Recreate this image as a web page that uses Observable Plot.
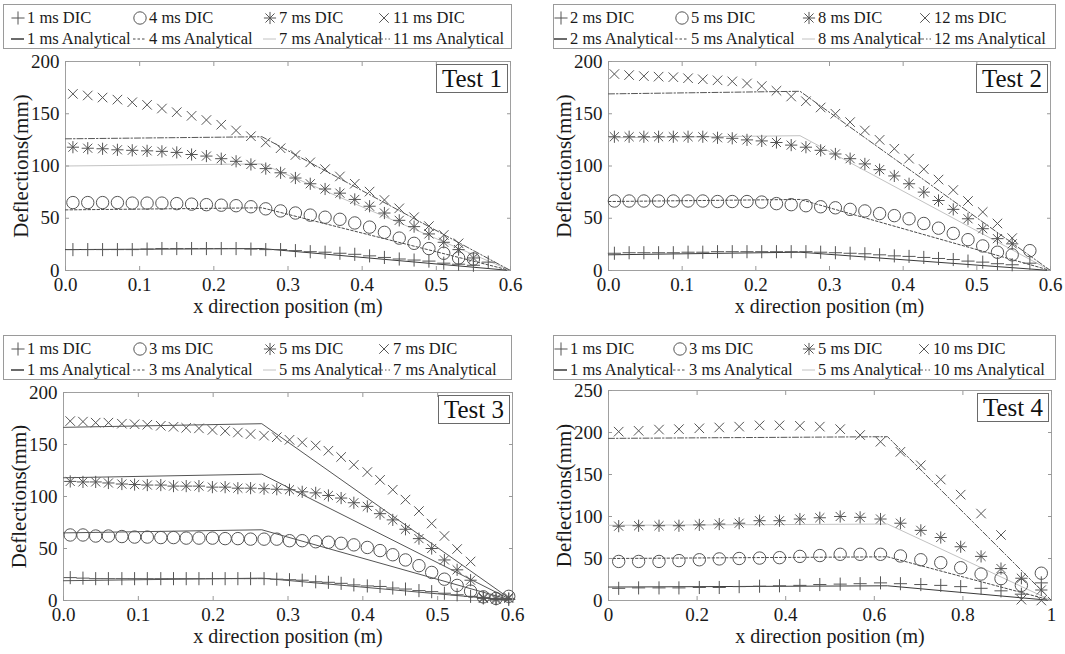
<!DOCTYPE html>
<html><head><meta charset="utf-8">
<script src="https://cdn.jsdelivr.net/npm/d3@7"></script>
<script src="https://cdn.jsdelivr.net/npm/@observablehq/plot@0.6"></script>
<style>
body{margin:0;background:#fff;font-family:"Liberation Serif","DejaVu Serif",serif;}
#root{position:relative;width:1065px;height:654px;overflow:hidden;background:#fff;}
.legend{position:absolute;border:1px solid #9a9a9a;background:#fff;box-sizing:border-box;}
.li{position:absolute;font-size:16.5px;line-height:1;white-space:nowrap;color:#1a1a1a;transform:translateY(-50%);}
.tag{position:absolute;border:1px solid #6a6a6a;background:#fff;font-size:25px;line-height:27px;padding:0 5px;color:#111;}
.pl{position:absolute;}
</style></head><body><div id="root"></div>
<script>
// ---------- Test 1 ----------
const t1DicLabels = ["1 ms DIC","4 ms DIC","7 ms DIC","11 ms DIC"];
const t1AnaLabels = ["1 ms Analytical","4 ms Analytical","7 ms Analytical","11 ms Analytical"];
const t1X = [0.01,0.03,0.05,0.07,0.09,0.11,0.13,0.15,0.17,0.19,0.21,0.23,0.25,0.27,0.29,0.31,0.33,0.35,0.37,0.39,0.41,0.43,0.45,0.47,0.49,0.51,0.53,0.55,0.57];
const t1Dic1 = [20,20,20,20,20,20.5,21,21,21,21,21,21,20.5,20,20,19,18,17.5,16.5,15.5,14,12.5,11,10,9,7,6,5,8];
const t1Dic4 = [65,65,65,65,64.5,64.5,64.5,64,63.5,63,62.5,62,61,59,57,55,53,51,49,45.5,41.5,36.5,31,26,21,16.5,12,11];
const t1Dic7 = [118,117,116.5,115.5,115,114.5,114,113,111,109.5,107,104.5,101.5,97.5,93.5,88.5,83,78,74,68,61.5,55,48,42,35,27,20,12];
const t1Dic11 = [169,167.5,165.5,163.5,161,158.5,155,151.5,148,144,139.5,134,128.5,122.5,117,110.5,103.5,97,90,83,75.5,67.5,59.5,51,42.5,34,26];
const t1AnaX = [0,0.265,0.6];
const t1Ana1 = [20,21,0];
const t1Ana4 = [58,60,0];
const t1Ana7 = [100,102,0];
const t1Ana11 = [126,128,0];

// ---------- Test 2 ----------
const t2DicLabels = ["2 ms DIC","5 ms DIC","8 ms DIC","12 ms DIC"];
const t2AnaLabels = ["2 ms Analytical","5 ms Analytical","8 ms Analytical","12 ms Analytical"];
const t2X = [0.008,0.028,0.048,0.068,0.088,0.108,0.128,0.148,0.168,0.188,0.208,0.228,0.248,0.268,0.288,0.308,0.328,0.348,0.368,0.388,0.408,0.428,0.448,0.468,0.488,0.508,0.528,0.548,0.572];
const t2Dic2 = [16.5,17,17,17,17,17.5,17.5,18,18,18,18,18,18,18,17.5,17,16.5,16,15,14,13.5,12.5,11.5,10.5,9,8,6.5,5.5,7];
const t2Dic5 = [66.5,66.5,66.5,66.5,66.5,66.5,66.5,66,66,66,65.5,64,63,62,61,60,58.5,57,54.5,52.5,49.5,45,40.5,35.5,29.5,23.5,17.5,15,19];
const t2Dic8 = [128,128,128,128,128,128,128,127,126.5,125,124,122.5,120,118,115,111.5,107,102,96.5,90.5,83,75,67,58.5,49.5,40,30.5,25.5];
const t2Dic12 = [188,187,186,185.5,185,184,183,182,181,179,176.5,172,166.5,162,156,150,142,134,125,116.5,107,97,87,77,66.5,56,45,31];
const t2AnaX = [0,0.26,0.6];
const t2Ana2 = [15,17.5,0];
const t2Ana5 = [66,68,0];
const t2Ana8 = [127,129,0];
const t2Ana12 = [169,171.5,0];

// ---------- Test 3 ----------
const t3DicLabels = ["1 ms DIC","3 ms DIC","5 ms DIC","7 ms DIC"];
const t3AnaLabels = ["1 ms Analytical","3 ms Analytical","5 ms Analytical","7 ms Analytical"];
const t3X = [0.009,0.026,0.043,0.060,0.078,0.095,0.112,0.130,0.147,0.164,0.181,0.199,0.216,0.233,0.250,0.268,0.285,0.302,0.319,0.337,0.354,0.371,0.388,0.406,0.423,0.440,0.457,0.475,0.492,0.509,0.526,0.544,0.561,0.578,0.595];
const t3Dic1 = [22,21.5,21,21,21,21,21,21,21,21,21,21,21,21,21,21,20.5,20,19.5,18,17.5,16.5,15,14,13.5,12,11,9.5,8.5,7,5.5,4,3,2,1];
const t3Dic3 = [63,63,62,62,61.5,61,61,60.5,60.5,60,60,60,59.5,59.5,59,59,59,57.5,57.5,56.5,56,55,53.5,51,48,44,39,33.5,27,20.5,14.5,9,3.5,2,4];
const t3Dic5 = [114.5,114,114,113,112,111.5,111,111,110,110,110,109,109,108,108,107.5,107,106.5,104.5,103.5,101,98.5,94,90.5,83.5,77.5,68.5,59.5,50,39,29.5,19.5,2,1,2];
const t3Dic7 = [172.5,172,171,171,170,169.5,169,168,167,166,165.5,164,163,161.5,160,158.5,157,154.5,152,149,144,138,130.5,123.5,116,106.5,97,86,74,62,49.5,37.5,3,2,3];
const t3AnaX = [0,0.265,0.6];
const t3Ana1 = [19,21.5,0];
const t3Ana3 = [65,68,0];
const t3Ana5 = [118,121.5,0];
const t3Ana7 = [166.5,170,0];

// ---------- Test 4 ----------
const t4DicLabels = ["1 ms DIC","3 ms DIC","5 ms DIC","10 ms DIC"];
const t4AnaLabels = ["1 ms Analytical","3 ms Analytical","5 ms Analytical","10 ms Analytical"];
const t4X = [0.023,0.068,0.114,0.159,0.205,0.250,0.295,0.341,0.386,0.432,0.477,0.523,0.568,0.614,0.659,0.705,0.750,0.795,0.841,0.886,0.932,0.977];
const t4Dic1 = [14.5,15,15,15,15.5,15.5,16.5,17,17.5,18,19,19.5,20,21,20,19,18,16.5,14.5,11.5,7.5,21];
const t4Dic3 = [46.5,46.5,46.5,47.5,48.5,49.5,50,50.5,51,52.5,53.5,55,55,55,53,48.5,45,39,31.5,26,18,32.5];
const t4Dic5 = [88.5,89,89,89,90,91,92,95,95,97,98.5,100,99,97,92,83.5,75,64,52.5,38,26.5,12.5];
const t4Dic10 = [201,202,203.5,204,205,206,207,208.5,208.5,208,207,204,197,189,177,161,144,126,103.5,78,1,0];
const t4AnaX = [0,0.63,1];
const t4Ana1 = [16,17.5,0];
const t4Ana3 = [50,52,0];
const t4Ana5 = [89.5,91,0];
const t4Ana10 = [193,195,0];

// tick values and labels
const xTicks06 = [0,0.1,0.2,0.3,0.4,0.5,0.6];
const xTicks1 = [0,0.2,0.4,0.6,0.8,1];
const yTicks200 = [0,50,100,150,200];
const yTicks250 = [0,50,100,150,200,250];
const xTitle = "x direction position (m)";
const yTitle = "Deflections(mm)";
const testNames = ["Test 1","Test 2","Test 3","Test 4"];

// ---------- styles ----------
const FONT = '"Liberation Serif","DejaVu Serif",serif';
// each DIC series is drawn with one or two stroke symbols (asterisk = plus + times, 8 arms)
const symbolSets = [
  [{s:"plus", r:4.3}],
  [{s:"circle", r:6.2}],
  [{s:"plus", r:4.0}, {s:"times", r:4.2}],
  [{s:"times", r:4.4}]
];
const markerColor = "#555";
const lineStyles = [
  {stroke:"#3a3a3a", dash:null},
  {stroke:"#4a4a4a", dash:"2.5,2"},
  {stroke:"#c2c2c2", dash:null},
  {stroke:"#555555", dash:"6,2,1.5,2"}
];
const solidStyles = [0,1,2,3].map(() => ({stroke:"#555", dash:null}));

const panels = [
  {name:testNames[0], dicX:t1X, dic:[t1Dic1,t1Dic4,t1Dic7,t1Dic11], anaX:t1AnaX, ana:[t1Ana1,t1Ana4,t1Ana7,t1Ana11],
   dicLabels:t1DicLabels, anaLabels:t1AnaLabels, xTicks:xTicks06, yTicks:yTicks200, xDom:[0,0.6], yDom:[0,200], xFmt:d3.format(".1f"),
   lines:lineStyles, left:0, top:45, width:530, height:280, mt:16, mb:55, ml:65, mr:20,
   leg:{left:3, top:4, width:509, height:45, tx:[23,145,275,389]}},
  {name:testNames[1], dicX:t2X, dic:[t2Dic2,t2Dic5,t2Dic8,t2Dic12], anaX:t2AnaX, ana:[t2Ana2,t2Ana5,t2Ana8,t2Ana12],
   dicLabels:t2DicLabels, anaLabels:t2AnaLabels, xTicks:xTicks06, yTicks:yTicks200, xDom:[0,0.6], yDom:[0,200], xFmt:d3.format(".1f"),
   lines:lineStyles, left:540, top:45, width:525, height:280, mt:16, mb:55, ml:68, mr:15,
   leg:{left:553, top:4, width:503, height:45, tx:[16,137,264,380]}},
  {name:testNames[2], dicX:t3X, dic:[t3Dic1,t3Dic3,t3Dic5,t3Dic7], anaX:t3AnaX, ana:[t3Ana1,t3Ana3,t3Ana5,t3Ana7],
   dicLabels:t3DicLabels, anaLabels:t3AnaLabels, xTicks:xTicks06, yTicks:yTicks200, xDom:[0,0.6], yDom:[0,200], xFmt:d3.format(".1f"),
   lines:solidStyles, legLines:lineStyles, left:0, top:376, width:530, height:278, mt:16, mb:54, ml:63, mr:18,
   leg:{left:3, top:335, width:509, height:45, tx:[23,145,275,389]}},
  {name:testNames[3], dicX:t4X, dic:[t4Dic1,t4Dic3,t4Dic5,t4Dic10], anaX:t4AnaX, ana:[t4Ana1,t4Ana3,t4Ana5,t4Ana10],
   dicLabels:t4DicLabels, anaLabels:t4AnaLabels, xTicks:xTicks1, yTicks:yTicks250, xDom:[0,1], yDom:[0,250], xFmt:d => String(d),
   lines:lineStyles, left:540, top:376, width:525, height:278, mt:14, mb:54, ml:68, mr:14,
   leg:{left:553, top:335, width:503, height:45, tx:[16,135,264,379]}}
];

const root = document.getElementById("root");

function pts(xs, ys){ return ys.map((y,i) => ({x: xs[i], y})); }
function d3sym(name){ return d3["symbol" + name[0].toUpperCase() + name.slice(1)]; }

panels.forEach(p => {
  const marks = [
    Plot.frame({stroke:"#a0a0a0"}),
    ...p.ana.map((ys,k) => Plot.line(pts(p.anaX, ys), {x:"x", y:"y", stroke:p.lines[k].stroke, strokeWidth:1, strokeDasharray:p.lines[k].dash})),
    ...p.dic.flatMap((ys,k) => symbolSets[k].map(o => Plot.dot(pts(p.dicX, ys), {x:"x", y:"y", symbol:o.s, r:o.r, stroke:markerColor, fill:"none", strokeWidth:1}))),
    Plot.axisX({ticks:p.xTicks, tickFormat:p.xFmt, tickSize:-4, tickPadding:11, stroke:"#999", fill:"#1a1a1a", fontSize:19, fontFamily:FONT, label:null}),
    Plot.axisX({anchor:"top", ticks:p.xTicks, tickFormat:() => "", tickSize:-4, stroke:"#999", label:null}),
    Plot.axisY({ticks:p.yTicks, tickSize:-4, tickPadding:10, stroke:"#999", fill:"#1a1a1a", fontSize:19, fontFamily:FONT, label:null}),
    Plot.axisY({anchor:"right", ticks:p.yTicks, tickFormat:() => "", tickSize:-4, stroke:"#999", label:null}),
    Plot.text([xTitle], {frameAnchor:"bottom", textAnchor:"middle", dy:42, fontSize:20, fontFamily:FONT, fill:"#1a1a1a"}),
    Plot.text([yTitle], {frameAnchor:"left", textAnchor:"middle", rotate:-90, dx:-44, fontSize:21, fontFamily:FONT, fill:"#1a1a1a"})
  ];
  const svg = Plot.plot({
    width:p.width, height:p.height,
    marginTop:p.mt, marginBottom:p.mb, marginLeft:p.ml, marginRight:p.mr,
    x:{domain:p.xDom}, y:{domain:p.yDom},
    style:{fontFamily:FONT, fontSize:"19px", background:"transparent", overflow:"visible"},
    marks
  });
  svg.classList.add("pl");
  svg.style.left = p.left + "px";
  svg.style.top = p.top + "px";
  root.appendChild(svg);

  // Test tag box
  const frameRight = p.left + p.width - p.mr;
  const frameTop = p.top + p.mt;
  const tag = document.createElement("div");
  tag.className = "tag";
  tag.textContent = p.name;
  tag.style.right = (1065 - (frameRight - 2)) + "px";
  tag.style.top = (frameTop + 3) + "px";
  root.appendChild(tag);

  // Legend
  const L = p.leg;
  const box = document.createElement("div");
  box.className = "legend";
  Object.assign(box.style, {left:L.left+"px", top:L.top+"px", width:L.width+"px", height:L.height+"px"});
  const rows = [13, 34];
  const lsvg = d3.create("svg").attr("width", L.width).attr("height", L.height)
    .style("position","absolute").style("left","-1px").style("top","-1px");
  const legLines = p.legLines || p.lines;
  for (let k = 0; k < 4; k++) {
    const tx = L.tx[k];
    const a = document.createElement("span");
    a.className = "li"; a.textContent = p.dicLabels[k];
    a.style.left = tx + "px"; a.style.top = (rows[0]) + "px";
    box.appendChild(a);
    const b = document.createElement("span");
    b.className = "li"; b.textContent = p.anaLabels[k];
    b.style.left = tx + "px"; b.style.top = (rows[1]) + "px";
    box.appendChild(b);
    symbolSets[k].forEach(o => {
      const sym = d3.symbol(d3sym(o.s), Math.PI * o.r * o.r);
      lsvg.append("path").attr("d", sym()).attr("transform", `translate(${tx - 8},${rows[0] + 1})`)
        .attr("fill","none").attr("stroke", markerColor).attr("stroke-width",1);
    });
    lsvg.append("line").attr("x1", tx - 15).attr("x2", tx - 2).attr("y1", rows[1] + 1).attr("y2", rows[1] + 1)
      .attr("stroke", legLines[k].stroke).attr("stroke-width", k === 0 ? 1.5 : 1)
      .attr("stroke-dasharray", legLines[k].dash);
  }
  box.appendChild(lsvg.node());
  root.appendChild(box);
});
</script></body></html>
